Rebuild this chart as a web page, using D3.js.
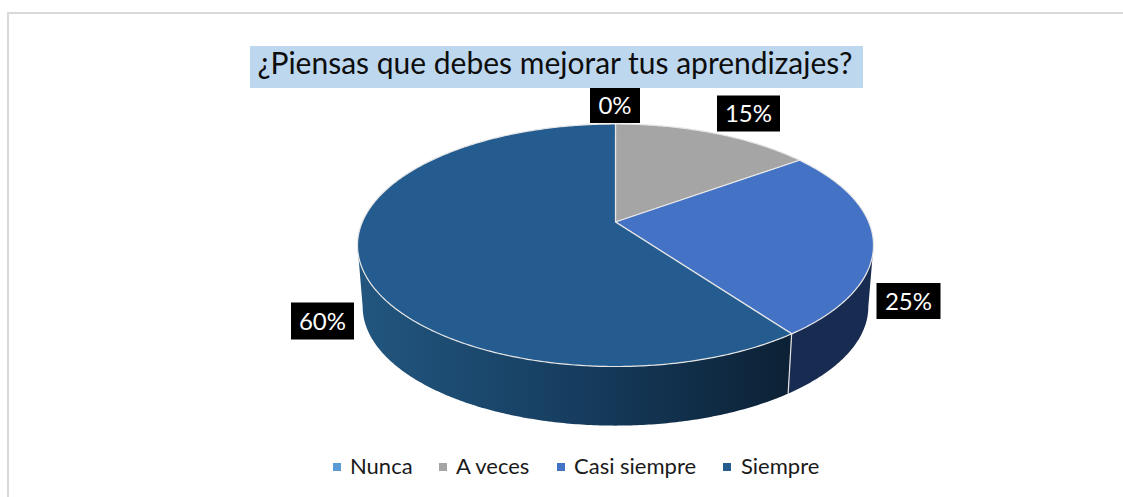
<!DOCTYPE html>
<html><head><meta charset="utf-8">
<script src="https://cdn.jsdelivr.net/npm/d3@7"></script>
<style>html,body{margin:0;padding:0;background:#fff;overflow:hidden}svg{display:block}text{font-family:Lato,"Open Sans",sans-serif}</style>
</head><body><svg id="c" width="1123" height="497"></svg>
<script>
const chartTitle = "¿Piensas que debes mejorar tus aprendizajes?";
const categories = ["Nunca","A veces","Casi siempre","Siempre"];
const seriesValues = [0,15,25,60];
const sliceColors = ["#5b9bd5","#a5a5a5","#4472c4","#255c8f"];
const wallColors = ["#2c5a80","#5c5c5c","#182b50","#1f5480"];

const W=1123,H=497;
const svg=d3.select("#c");
// frame
svg.append("path").attr("d","M8,497V13H1123").attr("fill","none").attr("stroke","#d9d9d9").attr("stroke-width",2);

// perspective projection of a unit disc
const cx=615.5, cy=222, A=253.2, B=116.8, k=0.1918, drop=62, shrink=0.98;
const xS=d3.scaleLinear().domain([-1,1]).range([cx-A,cx+A]);
const yS=d3.scaleLinear().domain([-1,1]).range([cy-B,cy+B]);
const top3=a=>{const u=Math.sin(a),v=-Math.cos(a),w=1/(1-k*v);return [xS(u*w),yS(v*w)];};
const bot3=a=>{const p=top3(a);return [cx+(p[0]-cx)*shrink,cy+drop+(p[1]-cy)*shrink];};
const line=d3.line();
const sweep=(a0,a1)=>{const n=Math.max(2,Math.ceil(Math.abs(a1-a0)/0.01));return d3.range(n+1).map(i=>a0+(a1-a0)*i/n);};

const arcs=d3.pie().sort(null).value(d=>d)(seriesValues);

const defs=svg.append("defs");
const g=defs.append("linearGradient").attr("id","wall").attr("gradientUnits","userSpaceOnUse")
  .attr("x1",360).attr("x2",790).attr("y1",0).attr("y2",0);
g.append("stop").attr("offset",0).attr("stop-color","#22567f");
g.append("stop").attr("offset",0.5).attr("stop-color","#163d5f");
g.append("stop").attr("offset",1).attr("stop-color","#0c2135");

// visible front wall runs from the right extreme to the left extreme
const extR=Math.PI/2+Math.asin(k), extL=3*Math.PI/2-Math.asin(k);
const wall=svg.append("g");
arcs.forEach((d,i)=>{
  const a0=Math.max(d.startAngle,extR), a1=Math.min(d.endAngle,extL);
  if(a1<=a0) return;
  const s=sweep(a0,a1);
  wall.append("path").attr("d",line(s.map(top3).concat(s.slice().reverse().map(bot3)))+"Z")
    .attr("fill",i===3?"url(#wall)":wallColors[i]);
  if(i===3) wall.append("path").attr("d",line([top3(a0),bot3(a0)])).attr("stroke","#e4e4e4").attr("stroke-width",1.2).attr("fill","none");
});

// top faces
const face=svg.append("g");
arcs.forEach((d,i)=>{
  if(d.endAngle<=d.startAngle) return;
  face.append("path").attr("d",line([[cx,cy]].concat(sweep(d.startAngle,d.endAngle).map(top3)))+"Z")
    .attr("fill",sliceColors[i]).attr("stroke","#e6e6e6").attr("stroke-width",1.2).attr("stroke-linejoin","round");
});

// title
svg.append("rect").attr("x",250).attr("y",46).attr("width",613).attr("height",42).attr("fill","#bdd7ee");
svg.append("text").attr("x",555).attr("y",74).attr("text-anchor","middle").attr("font-size",30).attr("fill","#0d0d0d").text(chartTitle);

// data labels
const labelCentres=[[615,105.5],[748.5,113.5],[908.5,301],[322.5,321]];
const labelW=[50,63,64,63],labelH=[35,36,36,37];
seriesValues.forEach((v,i)=>{
  const [x,y]=labelCentres[i];
  svg.append("rect").attr("x",x-labelW[i]/2).attr("y",y-labelH[i]/2).attr("width",labelW[i]).attr("height",labelH[i]).attr("fill","#000");
  svg.append("text").attr("x",x).attr("y",y+8.5).attr("text-anchor","middle").attr("font-size",24).attr("fill","#fff").text(v+"%");
});

// legend
const markerX=[333,439,557,723], textX=[350,456,574,741];
categories.forEach((c,i)=>{
  svg.append("rect").attr("x",markerX[i]).attr("y",463).attr("width",8).attr("height",8).attr("fill",sliceColors[i]);
  svg.append("text").attr("x",textX[i]).attr("y",474).attr("font-size",22).attr("fill","#1a1a1a").text(c);
});
</script></body></html>
